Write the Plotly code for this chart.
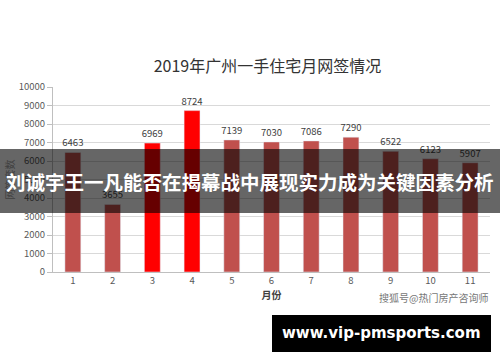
import plotly.graph_objects as go

months = ["1", "2", "3", "4", "5", "6", "7", "8", "9", "10", "11"]
sales = [6463, 3655, 6969, 8724, 7139, 7030, 7086, 7290, 6522, 6123, 5907]
highlight = [False, False, True, True, False, False, False, False, False, False, False]
title = "2019年广州一手住宅月网签情况"
x_title = "月份"
y_title = "网签套数"
banner = "刘诚宇王一凡能否在揭幕战中展现实力成为关键因素分析"
site = "www.vip-pmsports.com"
mark = "搜狐号@热门房产咨询师"

colors = ["#FF0000" if h else "#C0504D" for h in highlight]

W, H = 500, 362
L, R, T, B = 53, 10, 87, 90
PW, PH = W - L - R, H - T - B


def px(x):
    return (x - L) / PW


def py(y):
    return (H - B - y) / PH


fig = go.Figure(go.Bar(
    x=months, y=sales, marker_color=colors, width=0.4,
    text=[str(v) for v in sales], textposition="outside", constraintext="none",
    textfont=dict(size=9.5, color="#404040", family="Noto Sans CJK SC"),
    cliponaxis=False,
))

fig.update_layout(
    width=W, height=H,
    margin=dict(l=L, r=R, t=T, b=B),
    paper_bgcolor="white", plot_bgcolor="white",
    showlegend=False,
    font=dict(family="Noto Sans CJK SC", color="#595959"),
    title=dict(text=title, x=0.535, xanchor="center", y=1 - 66 / H, yanchor="middle",
               font=dict(size=16, color="#333333")),
    xaxis=dict(type="category", showline=True, linecolor="#BFBFBF", linewidth=1,
               tickfont=dict(size=9.5, color="#595959"), ticks="", ticklen=0,
               title=dict(text="<b>" + x_title + "</b>", font=dict(size=10, color="#404040"), standoff=4)),
    yaxis=dict(range=[0, 10000], dtick=1000, tickformat="d", showgrid=True, gridcolor="#D9D9D9",
               showline=True, linecolor="#BFBFBF", ticks="outside", ticklen=5, tickcolor="#BFBFBF",
               tickfont=dict(size=9.5, color="#595959"), zeroline=False,
               title=dict(text=y_title, font=dict(size=10, color="#404040"), standoff=2)),
    bargap=0.6,
)

fig.add_shape(type="rect", xref="paper", yref="paper", x0=px(-5), x1=px(505),
              y0=py(213), y1=py(149),
              fillcolor="rgba(0,0,0,0.6)", line_width=0, layer="above")
fig.add_annotation(text="<b>" + banner + "</b>", xref="paper", yref="paper",
                   x=px(250), xanchor="center", y=py(181), yanchor="middle", showarrow=False,
                   font=dict(size=19.5, color="white", family="Noto Sans CJK SC"))
fig.add_annotation(text=mark, xref="paper", yref="paper",
                   x=px(490), xanchor="right", y=py(297), yanchor="middle", showarrow=False,
                   font=dict(size=10, color="#777777", family="Noto Sans CJK SC"))
fig.add_shape(type="rect", xref="paper", yref="paper",
              x0=px(272), x1=px(491), y0=py(352), y1=py(315),
              fillcolor="black", line_width=0, layer="above")
fig.add_annotation(text="<b>" + site + "</b>", xref="paper", yref="paper",
                   x=px(381), xanchor="center", y=py(333), yanchor="middle", showarrow=False,
                   font=dict(size=15, color="white", family="DejaVu Sans"))

fig.write_html("out.html", config={"displayModeBar": False},
               post_script="document.body.style.margin='0';")
